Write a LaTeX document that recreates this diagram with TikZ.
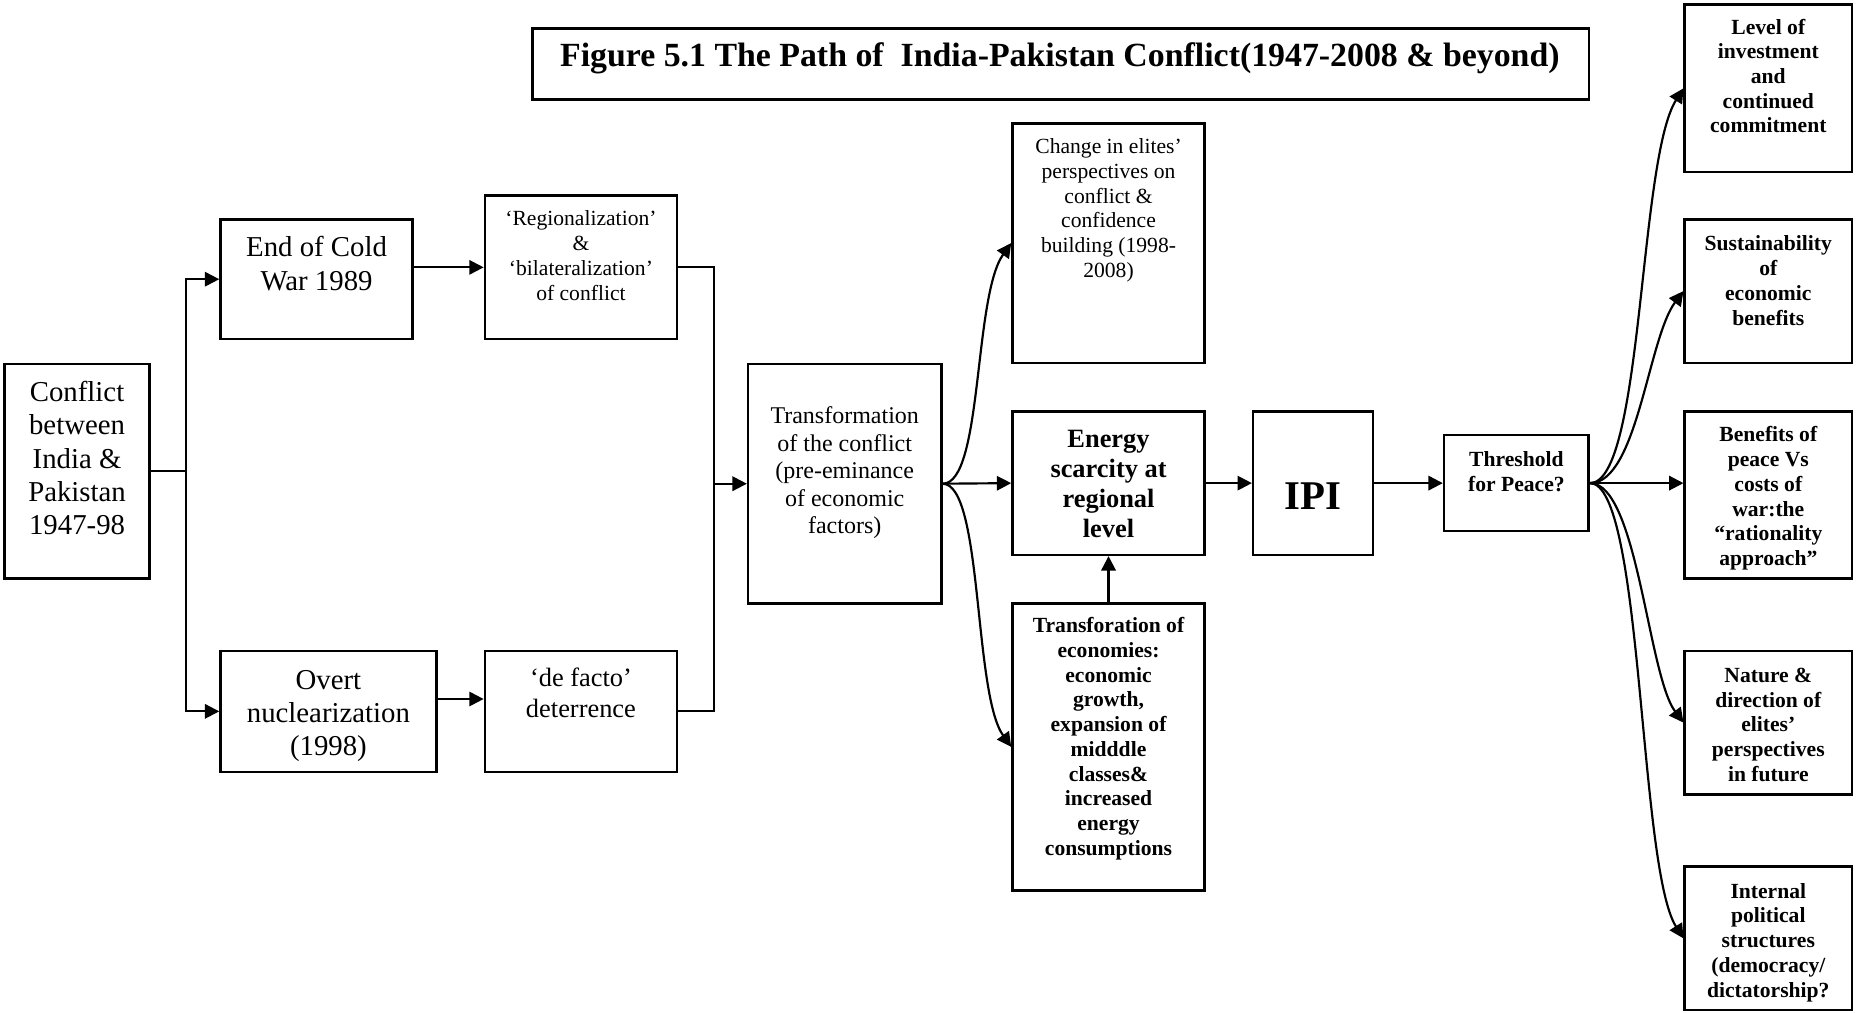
\documentclass[tikz,border=0pt]{standalone}
\usepackage{fontspec}
\setmainfont{Liberation Serif}
\usetikzlibrary{arrows.meta,calc}
\newcommand\bt[4]{\parbox[c][#2][t]{#1}{\centering\vspace*{#3}\rule{0pt}{0.69em}#4\par}}
\begin{document}
\begin{tikzpicture}[x=0.494pt,y=-0.494pt,
  bx/.style={draw, line width=1.05pt, inner sep=0pt},
  ar/.style={line width=0.9pt, -{Triangle[length=6pt,width=6pt]}},
  ln/.style={line width=0.9pt},
  ftw/.style={font=\fontsize{12}{13.9}\selectfont},
  fel/.style={font=\fontsize{11}{12.8}\selectfont},
  ften/.style={font=\fontsize{10}{11.5}\selectfont},
  fnine/.style={font=\fontsize{9}{10.3}\selectfont},
  fbnine/.style={font=\bfseries\fontsize{9}{10.3}\selectfont},
  fbel/.style={font=\bfseries\fontsize{11}{12.5}\selectfont}]
\useasboundingbox (0,0) rectangle (1568,854);

% title
\node[bx, minimum width=440.2pt, minimum height=29.64pt] (title) at (894.5,54) {};
\node[anchor=west, inner sep=0pt, font=\bfseries\fontsize{14.1}{16}\selectfont] (titletext) at (472,49) {Figure 5.1 The Path of~ India-Pakistan Conflict(1947-2008 \& beyond)};

% boxes
\node[bx,ftw] (conf) at (65,397.5) {\bt{60.27pt}{89.41pt}{7.2pt}{Conflict\\between\\India \&\\Pakistan\\1947-98}};
\node[bx,ftw] (end) at (267,235.5) {\bt{80.03pt}{49.89pt}{7.2pt}{End of Cold\\War 1989}};
\node[bx,fnine] (reg) at (490,225.5) {\bt{80.03pt}{59.77pt}{6.4pt}{‘Regionalization’\\\&\\‘bilateralization’\\of conflict}};
\node[bx,ftw] (overt) at (277,600) {\bt{89.91pt}{50.39pt}{7.6pt}{Overt\\nuclearization\\(1998)}};
\node[bx,fel] (defacto) at (490,600) {\bt{80.03pt}{50.39pt}{7.1pt}{‘de facto’\\deterrence}};
\node[bx,ften] (trans) at (712.5,408) {\bt{80.52pt}{99.79pt}{17.8pt}{Transformation\\of the conflict\\(pre-eminance\\of economic\\factors)}};
\node[bx,fnine] (change) at (935,205) {\bt{80.03pt}{99.79pt}{6.4pt}{Change in elites’\\perspectives on\\conflict \&\\confidence\\building (1998-\\2008)}};
\node[bx,fbel] (energy) at (935,407.5) {\bt{80.03pt}{59.77pt}{7.5pt}{Energy\\scarcity at\\regional\\level}};
\node[bx,fbnine] (econ) at (935,630) {\bt{80.03pt}{119.55pt}{5.9pt}{Transforation of\\economies:\\economic\\growth,\\expansion of\\midddle\\classes\&\\increased\\energy\\consumptions}};
\node[bx,font=\bfseries\fontsize{17}{20}\selectfont] (ipi) at (1107.5,407.5) {\bt{49.89pt}{59.77pt}{29.3pt}{IPI}};
\node[bx,fbnine] (thr) at (1279,407.5) {\bt{60.27pt}{40.01pt}{6.9pt}{Threshold\\for Peace?}};
\node[bx,fbnine] (lev) at (1491.5,74.5) {\bt{69.65pt}{69.65pt}{5.9pt}{Level of\\investment\\and\\continued\\commitment}};
\node[bx,fbnine] (sus) at (1491.5,245.5) {\bt{69.65pt}{59.77pt}{6.9pt}{Sustainability\\of\\economic\\benefits}};
\node[bx,fbnine] (ben) at (1491.5,417.5) {\bt{69.65pt}{69.65pt}{6.4pt}{Benefits of\\peace Vs\\costs of\\war:the\\“rationality\\approach”}};
\node[bx,fbnine] (nat) at (1491.5,609.5) {\bt{69.65pt}{59.77pt}{6.9pt}{Nature \&\\direction of\\elites’\\perspectives\\in future}};
\node[bx,fbnine] (int) at (1491.5,791.5) {\bt{69.65pt}{59.77pt}{6.9pt}{Internal\\political\\structures\\(democracy/\\dictatorship?}};

% left connectors
\draw[ln] (conf.east) -- ++(30,0) coordinate (j1);
\draw[ar] (j1) |- (end.west);
\draw[ar] (j1) |- (overt.west);
\draw[ar] (end.east |- reg.west) -- (reg.west);
\coordinate (o1) at ($(overt.north east)!0.4!(overt.south east)$);
\draw[ar] (o1) -- (o1 -| defacto.west);
\draw[ln] (reg.east) -- ++(30,0) coordinate (j2) |- (defacto.east);
\draw[ar] (j2 |- trans.west) -- (trans.west);

% middle
\draw[ar] (trans.east) -- (energy.west);
\draw[ar] (trans.east) .. controls +(34,0) and +(-32,45) .. (change.west);
\draw[ar] (trans.east) .. controls +(34,0) and +(-32,-45) .. (econ.west);
\draw[ar] (econ.north) -- (energy.south);
\draw[ar] (energy.east) -- (ipi.west);
\draw[ar] (ipi.east) -- (thr.west);

% right fan
\draw[ar] (thr.east) -- (thr.east -| ben.west);
\draw[ar] (thr.east) .. controls +(45,0) and +(-38,60) .. (lev.west);
\draw[ar] (thr.east) .. controls +(40,0) and +(-30,40) .. (sus.west);
\draw[ar] (thr.east) .. controls +(40,0) and +(-30,-40) .. (nat.west);
\draw[ar] (thr.east) .. controls +(45,0) and +(-38,-60) .. (int.west);
\end{tikzpicture}
\end{document}
